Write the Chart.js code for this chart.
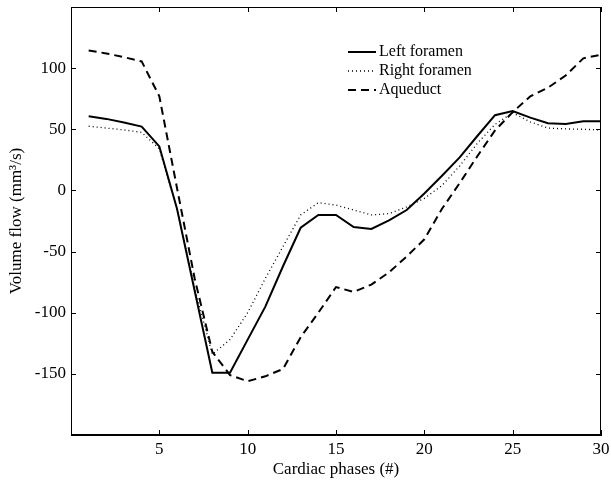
<!DOCTYPE html>
<html>
<head>
<meta charset="utf-8">
<script src="https://cdn.jsdelivr.net/npm/chart.js@4.4.1/dist/chart.umd.min.js"></script>
<style>
  html, body { margin: 0; padding: 0; background: #fff; }
  #wrap { width: 611px; height: 490px; }
</style>
</head>
<body>
<div id="wrap"><canvas id="flowChart"></canvas></div>
<script>
// cardiac phase numbers
let phases = [1, 2, 3, 4, 5, 6, 7, 8, 9, 10, 11, 12, 13, 14, 15,
  16, 17, 18, 19, 20, 21, 22, 23, 24, 25, 26, 27, 28, 29, 30];

// volume flow, mm3/s
let leftForamen = [60.6, 58.5, 55.5, 52.2, 36, -15, -82, -149, -149, -122,
  -95, -62, -30.5, -20, -20, -30, -31.5, -24.5, -16, -2.5,
  12, 27, 44.5, 61.5, 65, 59.5, 55, 54.3, 56.5, 56.5];
let rightForamen = [52.5, 51, 49.5, 47.5, 34, -15, -80, -134, -122, -100,
  -72, -46, -20, -10, -12, -16, -20, -19, -13.5, -6.5,
  4, 20, 38.5, 54, 63.5, 56, 51, 50.3, 50, 49.5];
let aqueduct = [114.5, 112, 109, 105.5, 77, 2, -72, -132, -151, -156,
  -152, -146, -120, -100, -79, -83, -77, -67, -54, -40,
  -15, 6, 28, 49, 64, 77, 84, 94, 108, 111];

let xTickLabels = [5, 10, 15, 20, 25, 30];
let yTickLabels = [-150, -100, -50, 0, 50, 100];

const serif = "'Liberation Serif', 'DejaVu Serif', serif";

function toPoints(vals) {
  return phases.map((p, i) => ({ x: p, y: vals[i] }));
}

// box and inward ticks, drawn as 1px filled rects with a clean context state
const frameTicks = {
  id: "frameTicks",
  afterDraw(chart) {
    const c = chart.ctx;
    const xs = chart.scales.x;
    const ys = chart.scales.y;
    const l = Math.round(xs.getPixelForValue(xs.min));
    const r = Math.round(xs.getPixelForValue(xs.max)) - 1;
    const t = Math.round(ys.getPixelForValue(ys.max));
    const b = Math.round(ys.getPixelForValue(ys.min)) - 1;
    const len = 5;
    c.save();
    c.setTransform(1, 0, 0, 1, 0, 0);
    c.globalAlpha = 1;
    c.globalCompositeOperation = "source-over";
    c.fillStyle = "#000";
    c.fillRect(l, t, r - l + 1, 1);
    c.fillRect(l, b, r - l + 1, 1);
    c.fillRect(l, t, 1, b - t + 1);
    c.fillRect(r, t, 1, b - t + 1);
    xs.ticks.forEach((tk) => {
      const px = Math.round(xs.getPixelForValue(tk.value));
      c.fillRect(px, b - len + 1, 1, len);
      c.fillRect(px, t, 1, len);
    });
    ys.ticks.forEach((tk) => {
      const py = Math.round(ys.getPixelForValue(tk.value));
      c.fillRect(l, py, len, 1);
      c.fillRect(r - len + 1, py, len, 1);
    });
    c.restore();
  },
};

// legend drawn inside the plot, top right
const boxLegend = {
  id: "boxLegend",
  afterDraw(chart) {
    const c = chart.ctx;
    const a = chart.chartArea;
    const x0 = a.left + 277;
    const y0 = a.top + 45;
    c.save();
    c.font = "16px " + serif;
    c.textBaseline = "middle";
    c.fillStyle = "#000";
    chart.data.datasets.forEach((ds, i) => {
      const y = y0 + i * 19;
      c.beginPath();
      c.strokeStyle = "#000";
      c.lineWidth = ds.borderWidth;
      c.setLineDash(ds.borderDash || []);
      c.moveTo(x0, y);
      c.lineTo(x0 + 28, y);
      c.stroke();
      c.setLineDash([]);
      c.fillText(ds.label, x0 + 31, y);
    });
    c.restore();
  },
};

let flowChart = new Chart(document.getElementById("flowChart"), {
  type: "line",
  data: {
    datasets: [
      {
        label: "Left foramen",
        data: toPoints(leftForamen),
        borderColor: "#000",
        borderWidth: 2,
        borderDash: [],
      },
      {
        label: "Right foramen",
        data: toPoints(rightForamen),
        borderColor: "#000",
        borderWidth: 1.3,
        borderDash: [1, 3],
      },
      {
        label: "Aqueduct",
        data: toPoints(aqueduct),
        borderColor: "#000",
        borderWidth: 2,
        borderDash: [8, 5],
      },
    ],
  },
  options: {
    responsive: true,
    maintainAspectRatio: false,
    animation: false,
    layout: { padding: { top: 7, right: 10, left: 0, bottom: 0 } },
    elements: { point: { radius: 0 }, line: { tension: 0 } },
    plugins: {
      legend: { display: false },
      tooltip: { enabled: false },
    },
    scales: {
      x: {
        type: "linear",
        min: 0,
        max: 30,
        grid: { display: false, drawTicks: false },
        border: { display: true, color: "#000", width: 1 },
        ticks: {
          stepSize: 5,
          padding: 4,
          color: "#000",
          font: { family: serif, size: 17 },
          maxRotation: 0,
          callback: (v) => (xTickLabels.includes(v) ? String(v) : ""),
        },
        title: {
          display: true,
          text: "Cardiac phases (#)",
          color: "#000",
          font: { family: serif, size: 17 },
          padding: { top: 0, bottom: 10 },
        },
        afterFit: (s) => {
          s.height = 55;
          s.paddingLeft = 0;
          s.paddingRight = 0;
        },
      },
      y: {
        min: -200,
        max: 150,
        grid: { display: false, drawTicks: false },
        border: { display: true, color: "#000", width: 1 },
        ticks: {
          stepSize: 50,
          padding: 5,
          color: "#000",
          font: { family: serif, size: 17 },
          callback: (v) => (yTickLabels.includes(v) ? String(v) : ""),
        },
        title: {
          display: true,
          text: "Volume flow (mm³/s)",
          color: "#000",
          font: { family: serif, size: 17 },
          padding: { top: 6, bottom: 0 },
        },
        afterFit: (s) => {
          s.width = 71;
          s.paddingTop = 0;
          s.paddingBottom = 0;
        },
      },
    },
  },
  plugins: [frameTicks, boxLegend],
});
</script>
</body>
</html>
